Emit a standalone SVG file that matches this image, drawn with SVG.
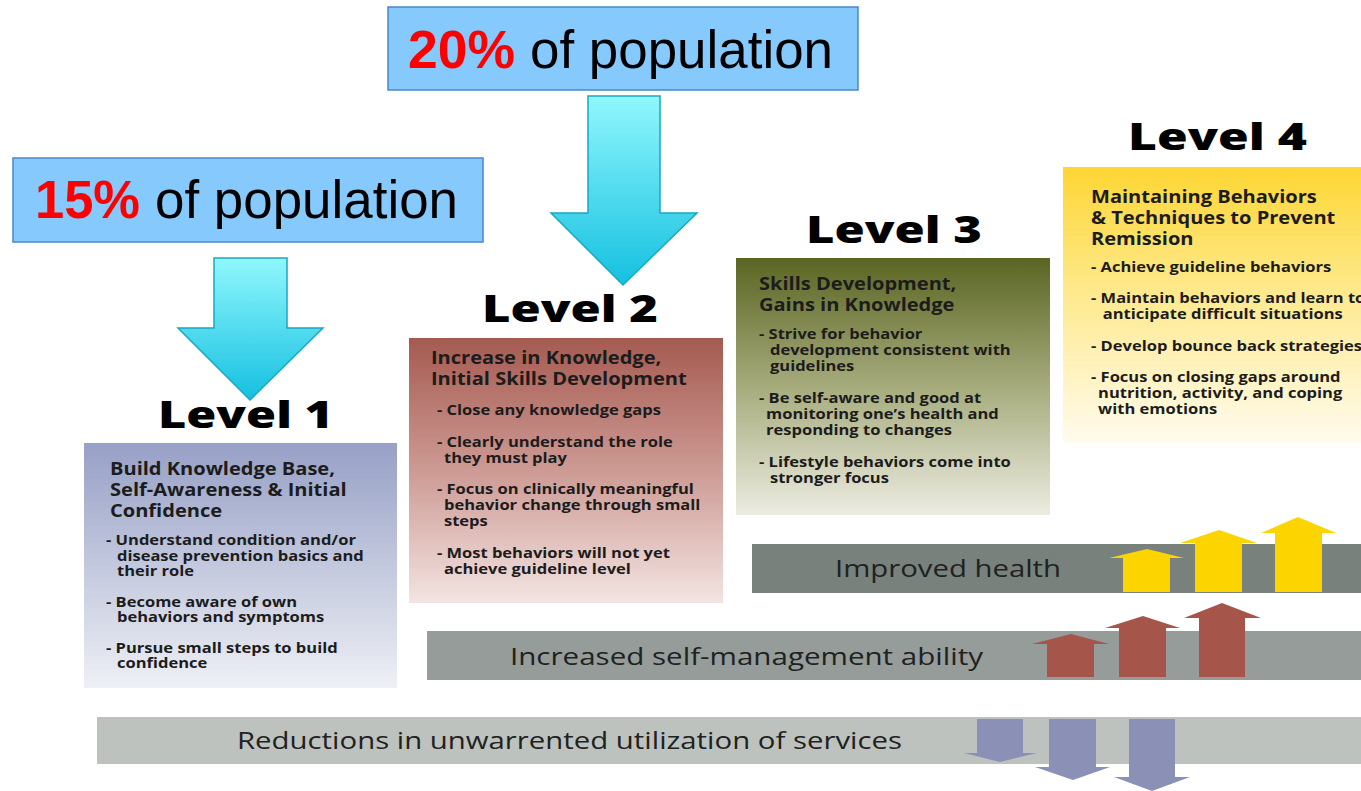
<svg xmlns="http://www.w3.org/2000/svg" width="1361" height="791" viewBox="0 0 1361 791">
<defs>
<linearGradient id="gCyan" x1="0" y1="0" x2="0" y2="1"><stop offset="0" stop-color="#90f7fd"/><stop offset="1" stop-color="#15c0e0"/></linearGradient>
<linearGradient id="g1" x1="0" y1="0" x2="0" y2="1"><stop offset="0" stop-color="#97a0c6"/><stop offset="1" stop-color="#eef0f5"/></linearGradient>
<linearGradient id="g2" x1="0" y1="0" x2="0" y2="1"><stop offset="0" stop-color="#a55a50"/><stop offset="0.5" stop-color="#cd9a94"/><stop offset="1" stop-color="#f3e4e2"/></linearGradient>
<linearGradient id="g3" x1="0" y1="0" x2="0" y2="1"><stop offset="0" stop-color="#5a6522"/><stop offset="0.5" stop-color="#a6ab7c"/><stop offset="1" stop-color="#ecece1"/></linearGradient>
<linearGradient id="g4" x1="0" y1="0" x2="0" y2="1"><stop offset="0" stop-color="#fdd633"/><stop offset="0.45" stop-color="#fee98c"/><stop offset="1" stop-color="#fffbee"/></linearGradient>
</defs>
<style>
.call{fill:#85c9fd;stroke:#4c86c6;stroke-width:1.5}
.pct{font-family:"Liberation Sans",Arial,sans-serif;font-size:54px;font-weight:bold;fill:#ff0000}
.pop{font-family:"Liberation Sans",Arial,sans-serif;font-size:54px;fill:#000}
.cyan{fill:url(#gCyan);stroke:#16a9c4;stroke-width:1.5}
.lvl{font-family:"Open Sans","DejaVu Sans",sans-serif;font-weight:800;font-size:37px;fill:#000}
.hd{font-family:"Open Sans","DejaVu Sans",sans-serif;font-weight:700;font-size:17px;fill:#1c1c1c}
.bl{font-family:"Open Sans","DejaVu Sans",sans-serif;font-weight:700;font-size:14px;fill:#1c1c1c}
.bar{font-family:"Open Sans","DejaVu Sans",sans-serif;font-size:24px;fill:#1e2220}
.yel{fill:#fcd500}
.red{fill:#a5554a}
.blu{fill:#8a90b6}
</style>

<g id="callout-20">
<rect class="call" x="388" y="7" width="470" height="83"/>
<text class="pct" x="408" y="68" textLength="107" lengthAdjust="spacingAndGlyphs">20%</text>
<text class="pop" x="530" y="68" textLength="303" lengthAdjust="spacingAndGlyphs">of population</text>
</g>
<g id="callout-15">
<rect class="call" x="13" y="158" width="470" height="84"/>
<text class="pct" x="35" y="218" textLength="105" lengthAdjust="spacingAndGlyphs">15%</text>
<text class="pop" x="155" y="218" textLength="303" lengthAdjust="spacingAndGlyphs">of population</text>
</g>

<g id="level1">
<text class="lvl" x="158" y="428" textLength="175" lengthAdjust="spacingAndGlyphs">Level 1</text>
<rect x="84" y="443" width="313" height="245" fill="url(#g1)"/>
<g transform="matrix(1.18,0,0,1,-19.08,0)">
<text class="hd" x="109.4" y="475">Build Knowledge Base,</text>
<text class="hd" x="109.4" y="496">Self-Awareness &amp; Initial</text>
<text class="hd" x="109.4" y="517">Confidence</text>
<text class="bl" x="106" y="545">- Understand condition and/or</text>
<text class="bl" x="115.3" y="561">disease prevention basics and</text>
<text class="bl" x="115.3" y="576">their role</text>
<text class="bl" x="106" y="607">- Become aware of own</text>
<text class="bl" x="115.3" y="622">behaviors and symptoms</text>
<text class="bl" x="106" y="653">- Pursue small steps to build</text>
<text class="bl" x="115.3" y="668">confidence</text>
</g>
</g>

<g id="level2">
<text class="lvl" x="482" y="322" textLength="176" lengthAdjust="spacingAndGlyphs">Level 2</text>
<rect x="409" y="338" width="314" height="265" fill="url(#g2)"/>
<g transform="matrix(1.18,0,0,1,-77.58,0)">
<text class="hd" x="431" y="364">Increase in Knowledge,</text>
<text class="hd" x="431" y="385">Initial Skills Development</text>
<text class="bl" x="436" y="415">- Close any knowledge gaps</text>
<text class="bl" x="436" y="447">- Clearly understand the role</text>
<text class="bl" x="442" y="463">they must play</text>
<text class="bl" x="436" y="494">- Focus on clinically meaningful</text>
<text class="bl" x="442" y="510">behavior change through small</text>
<text class="bl" x="442" y="526">steps</text>
<text class="bl" x="436" y="558">- Most behaviors will not yet</text>
<text class="bl" x="442" y="574">achieve guideline level</text>
</g>
</g>

<g id="level3">
<text class="lvl" x="806" y="243" textLength="176" lengthAdjust="spacingAndGlyphs">Level 3</text>
<rect x="736" y="258" width="314" height="257" fill="url(#g3)"/>
<g transform="matrix(1.18,0,0,1,-136.62,0)">
<text class="hd" x="759" y="290">Skills Development,</text>
<text class="hd" x="759" y="311">Gains in Knowledge</text>
<text class="bl" x="759" y="339">- Strive for behavior</text>
<text class="bl" x="768.3" y="355">development consistent with</text>
<text class="bl" x="768.3" y="371">guidelines</text>
<text class="bl" x="759" y="403">- Be self-aware and good at</text>
<text class="bl" x="765" y="419">monitoring one’s health and</text>
<text class="bl" x="765" y="435">responding to changes</text>
<text class="bl" x="759" y="467">- Lifestyle behaviors come into</text>
<text class="bl" x="768.3" y="483">stronger focus</text>
</g>
</g>

<g id="level4">
<text class="lvl" x="1128" y="150" textLength="179" lengthAdjust="spacingAndGlyphs">Level 4</text>
<rect x="1063" y="167" width="298" height="276" fill="url(#g4)"/>
<g transform="matrix(1.18,0,0,1,-196.38,0)">
<text class="hd" x="1091" y="203">Maintaining Behaviors</text>
<text class="hd" x="1091" y="224">&amp; Techniques to Prevent</text>
<text class="hd" x="1091" y="245">Remission</text>
<text class="bl" x="1091" y="272">- Achieve guideline behaviors</text>
<text class="bl" x="1091" y="303">- Maintain behaviors and learn to</text>
<text class="bl" x="1101" y="319">anticipate difficult situations</text>
<text class="bl" x="1091" y="351">- Develop bounce back strategies</text>
<text class="bl" x="1091" y="382">- Focus on closing gaps around</text>
<text class="bl" x="1097" y="398">nutrition, activity, and coping</text>
<text class="bl" x="1097" y="414">with emotions</text>
</g>
</g>

<g id="bar-health">
<rect x="752" y="544" width="609" height="49" fill="#79817d"/>
<text class="bar" x="835" y="577" textLength="226" lengthAdjust="spacingAndGlyphs">Improved health</text>
</g>
<g id="bar-self">
<rect x="427" y="631" width="934" height="49" fill="#969c9a"/>
<text class="bar" x="510" y="665" textLength="473" lengthAdjust="spacingAndGlyphs">Increased self-management ability</text>
</g>
<g id="bar-reduce">
<rect x="97" y="717" width="1264" height="47" fill="#bdc2be"/>
<text class="bar" x="237" y="749" textLength="665" lengthAdjust="spacingAndGlyphs">Reductions in unwarrented utilization of services</text>
</g>

<g id="connectors">
<path class="cyan" d="M214,258 H287 V328 H323 L250,400 L178,328 H214 Z"/>
<path class="cyan" d="M588,96 H660 V213 H697 L623,285 L551,213 H588 Z"/>
<path class="yel" d="M1123,592 V558 H1109 L1147,549 L1184,558 H1170 V592 Z"/>
<path class="yel" d="M1195,592 V543 H1180 L1219,530 L1257,543 H1242 V592 Z"/>
<path class="yel" d="M1275,592 V533 H1261 L1298,517 L1336,533 H1322 V592 Z"/>
<path class="red" d="M1047,677 V644 H1032 L1071,634 L1109,644 H1094 V677 Z"/>
<path class="red" d="M1119,677 V628 H1105 L1143,616 L1180,628 H1166 V677 Z"/>
<path class="red" d="M1199,677 V618 H1184 L1222,603 L1261,618 H1245 V677 Z"/>
<path class="blu" d="M977,719 H1023 V753 H1037 L1000,762 L964,753 H977 Z"/>
<path class="blu" d="M1049,719 H1096 V767 H1110 L1073,780 L1035,767 H1049 Z"/>
<path class="blu" d="M1129,719 H1175 V777 H1190 L1152,791 L1114,777 H1129 Z"/>
</g>
</svg>
